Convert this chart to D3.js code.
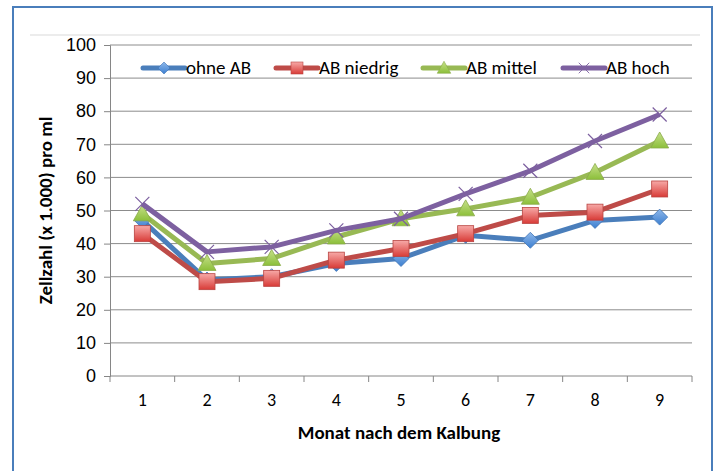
<!DOCTYPE html>
<html>
<head>
<meta charset="utf-8">
<script src="https://cdn.jsdelivr.net/npm/d3@7"></script>
<style>
  body { margin: 0; background: #fff; }
  svg { font-family: Carlito, Lato, "Liberation Sans", sans-serif; }
</style>
</head>
<body>
<svg id="chart"></svg>
<script>
const months = ["1", "2", "3", "4", "5", "6", "7", "8", "9"];
const yTicks = [0, 10, 20, 30, 40, 50, 60, 70, 80, 90, 100];
const seriesNames = ["ohne AB", "AB niedrig", "AB mittel", "AB hoch"];
const ohneAB = [47, 29, 30, 34, 35.5, 42.5, 41, 47, 48];
const abNiedrig = [43, 28.5, 29.5, 35, 38.5, 43, 48.5, 49.5, 56.5];
const abMittel = [49, 34, 35.5, 42, 47.5, 50.5, 54, 61.5, 71];
const abHoch = [52, 37.5, 39, 44, 47.5, 55, 62, 71, 79];

function makeChart() {
	let w = 717;
	let h = 471;
	let m = { left: 110, right: 25, top: 45, bottom: 95 };

	let svg = d3.select('#chart')
		.attr('width', w)
		.attr('height', h);

	let defs = svg.append('defs');
	let grad = defs.append('linearGradient').attr('id', 'redg')
		.attr('x1', 0).attr('y1', 0).attr('x2', 0).attr('y2', 1);
	grad.append('stop').attr('offset', '0%').attr('stop-color', '#f7a9a7');
	grad.append('stop').attr('offset', '100%').attr('stop-color', '#d83b37');
	let ggrad = defs.append('linearGradient').attr('id', 'greeng')
		.attr('x1', 0).attr('y1', 0).attr('x2', 0).attr('y2', 1);
	ggrad.append('stop').attr('offset', '0%').attr('stop-color', '#c6e08a');
	ggrad.append('stop').attr('offset', '100%').attr('stop-color', '#8cbf3a');
	let bgrad = defs.append('linearGradient').attr('id', 'blueg')
		.attr('x1', 0).attr('y1', 0).attr('x2', 0).attr('y2', 1);
	bgrad.append('stop').attr('offset', '0%').attr('stop-color', '#8fb8ea');
	bgrad.append('stop').attr('offset', '100%').attr('stop-color', '#3c7fd0');

	// outer frame
	svg.append('rect')
		.attr('x', 13).attr('y', 7)
		.attr('width', 699).attr('height', 480)
		.attr('fill', '#fff')
		.attr('stroke', '#4a7ebb')
		.attr('stroke-width', 2);

	svg.append('line')
		.attr('x1', 30).attr('x2', 700)
		.attr('y1', 35).attr('y2', 35)
		.attr('stroke', '#d9d9d9');

	let x = d3.scaleBand()
		.domain(months)
		.range([m.left, w - m.right]);

	let y = d3.scaleLinear()
		.domain([0, 100])
		.range([h - m.bottom, m.top]);

	// gridlines
	svg.append('g')
		.selectAll('line')
		.data(yTicks.slice(1))
		.enter()
		.append('line')
		.attr('x1', m.left).attr('x2', w - m.right)
		.attr('y1', d => y(d)).attr('y2', d => y(d))
		.attr('stroke', '#8c8c8c')
		.attr('stroke-width', 1);

	// y axis
	let yAxis = svg.append('g')
		.attr('transform', `translate(${m.left},0)`)
		.call(d3.axisLeft(y).tickValues(yTicks).tickSize(6).tickPadding(8));
	yAxis.selectAll('line, path').attr('stroke', '#868686');
	yAxis.selectAll('text').attr('font-size', 18).attr('fill', '#000').attr('font-family', null);

	// x axis with ticks at category boundaries
	let xAxisG = svg.append('g')
		.attr('transform', `translate(0,${h - m.bottom})`);
	xAxisG.append('line')
		.attr('x1', m.left).attr('x2', w - m.right)
		.attr('stroke', '#868686');
	let bounds = months.map(d => x(d)).concat([x(months[months.length - 1]) + x.bandwidth()]);
	xAxisG.selectAll('.tk')
		.data(bounds)
		.enter()
		.append('line')
		.attr('x1', d => d).attr('x2', d => d)
		.attr('y1', 0).attr('y2', 6)
		.attr('stroke', '#868686');
	xAxisG.selectAll('text')
		.data(months)
		.enter()
		.append('text')
		.attr('x', d => x(d) + x.bandwidth() / 2)
		.attr('y', 30)
		.attr('text-anchor', 'middle')
		.attr('font-size', 18)
		.text(d => d);

	// axis titles
	svg.append('text')
		.attr('x', (m.left + w - m.right) / 2 - 2)
		.attr('y', 439)
		.attr('text-anchor', 'middle')
		.attr('font-size', 19)
		.attr('font-weight', 'bold')
		.text('Monat nach dem Kalbung');

	svg.append('text')
		.attr('transform', `translate(52,${(y(0) + y(100)) / 2}) rotate(-90)`)
		.attr('text-anchor', 'middle')
		.attr('font-size', 19)
		.attr('font-weight', 'bold')
		.text('Zellzahl (x 1.000) pro ml');

	let series = [
		{ name: seriesNames[0], values: ohneAB, color: '#4a7ebb', marker: 'diamond' },
		{ name: seriesNames[1], values: abNiedrig, color: '#be4b48', marker: 'square' },
		{ name: seriesNames[2], values: abMittel, color: '#98b954', marker: 'triangle' },
		{ name: seriesNames[3], values: abHoch, color: '#7d60a0', marker: 'x' }
	];

	let cx = (d, i) => x(months[i]) + x.bandwidth() / 2;
	let line = d3.line()
		.x((d, i) => cx(d, i))
		.y(d => y(d));

	function drawMarker(g, type, color) {
		if (type === 'diamond') {
			g.append('path')
				.attr('d', 'M0,-8L8,0L0,8L-8,0Z')
				.attr('fill', 'url(#blueg)')
				.attr('stroke', '#3f74b5').attr('stroke-width', 0.8);
		} else if (type === 'square') {
			g.append('rect')
				.attr('x', -8).attr('y', -8).attr('width', 16).attr('height', 16)
				.attr('fill', 'url(#redg)')
				.attr('stroke', '#b94441').attr('stroke-width', 0.8);
		} else if (type === 'triangle') {
			g.append('path')
				.attr('d', 'M0,-9L9,7L-9,7Z')
				.attr('fill', 'url(#greeng)')
				.attr('stroke', '#8aab4a').attr('stroke-width', 0.8);
		} else {
			g.append('path')
				.attr('d', 'M-7,-7L7,7M-7,7L7,-7')
				.attr('stroke', color).attr('stroke-width', 1.2)
				.attr('fill', 'none');
		}
	}

	series.forEach(s => {
		let g = svg.append('g');
		g.append('path')
			.datum(s.values)
			.attr('d', line)
			.attr('fill', 'none')
			.attr('stroke', s.color)
			.attr('stroke-width', 5)
			.attr('stroke-linejoin', 'round');
		g.selectAll('g')
			.data(s.values)
			.enter()
			.append('g')
			.attr('transform', (d, i) => `translate(${cx(d, i)},${y(d)})`)
			.each(function () { drawMarker(d3.select(this), s.marker, s.color); });
	});

	// legend
	let legendX = [143, 276, 423, 563];
	let legend = svg.append('g').attr('transform', 'translate(0,68)');
	series.forEach((s, i) => {
		let lg = legend.append('g').attr('transform', `translate(${legendX[i]},0)`);
		lg.append('line')
			.attr('x1', 0).attr('x2', 42)
			.attr('stroke', s.color)
			.attr('stroke-width', 5)
			.attr('stroke-linecap', 'round');
		let mk = lg.append('g').attr('transform', 'translate(21,0) scale(0.75)');
		drawMarker(mk, s.marker, s.color);
		lg.append('text')
			.attr('x', 43).attr('y', 6)
			.attr('font-size', 19)
			.text(s.name);
	});
}

makeChart();
</script>
</body>
</html>
